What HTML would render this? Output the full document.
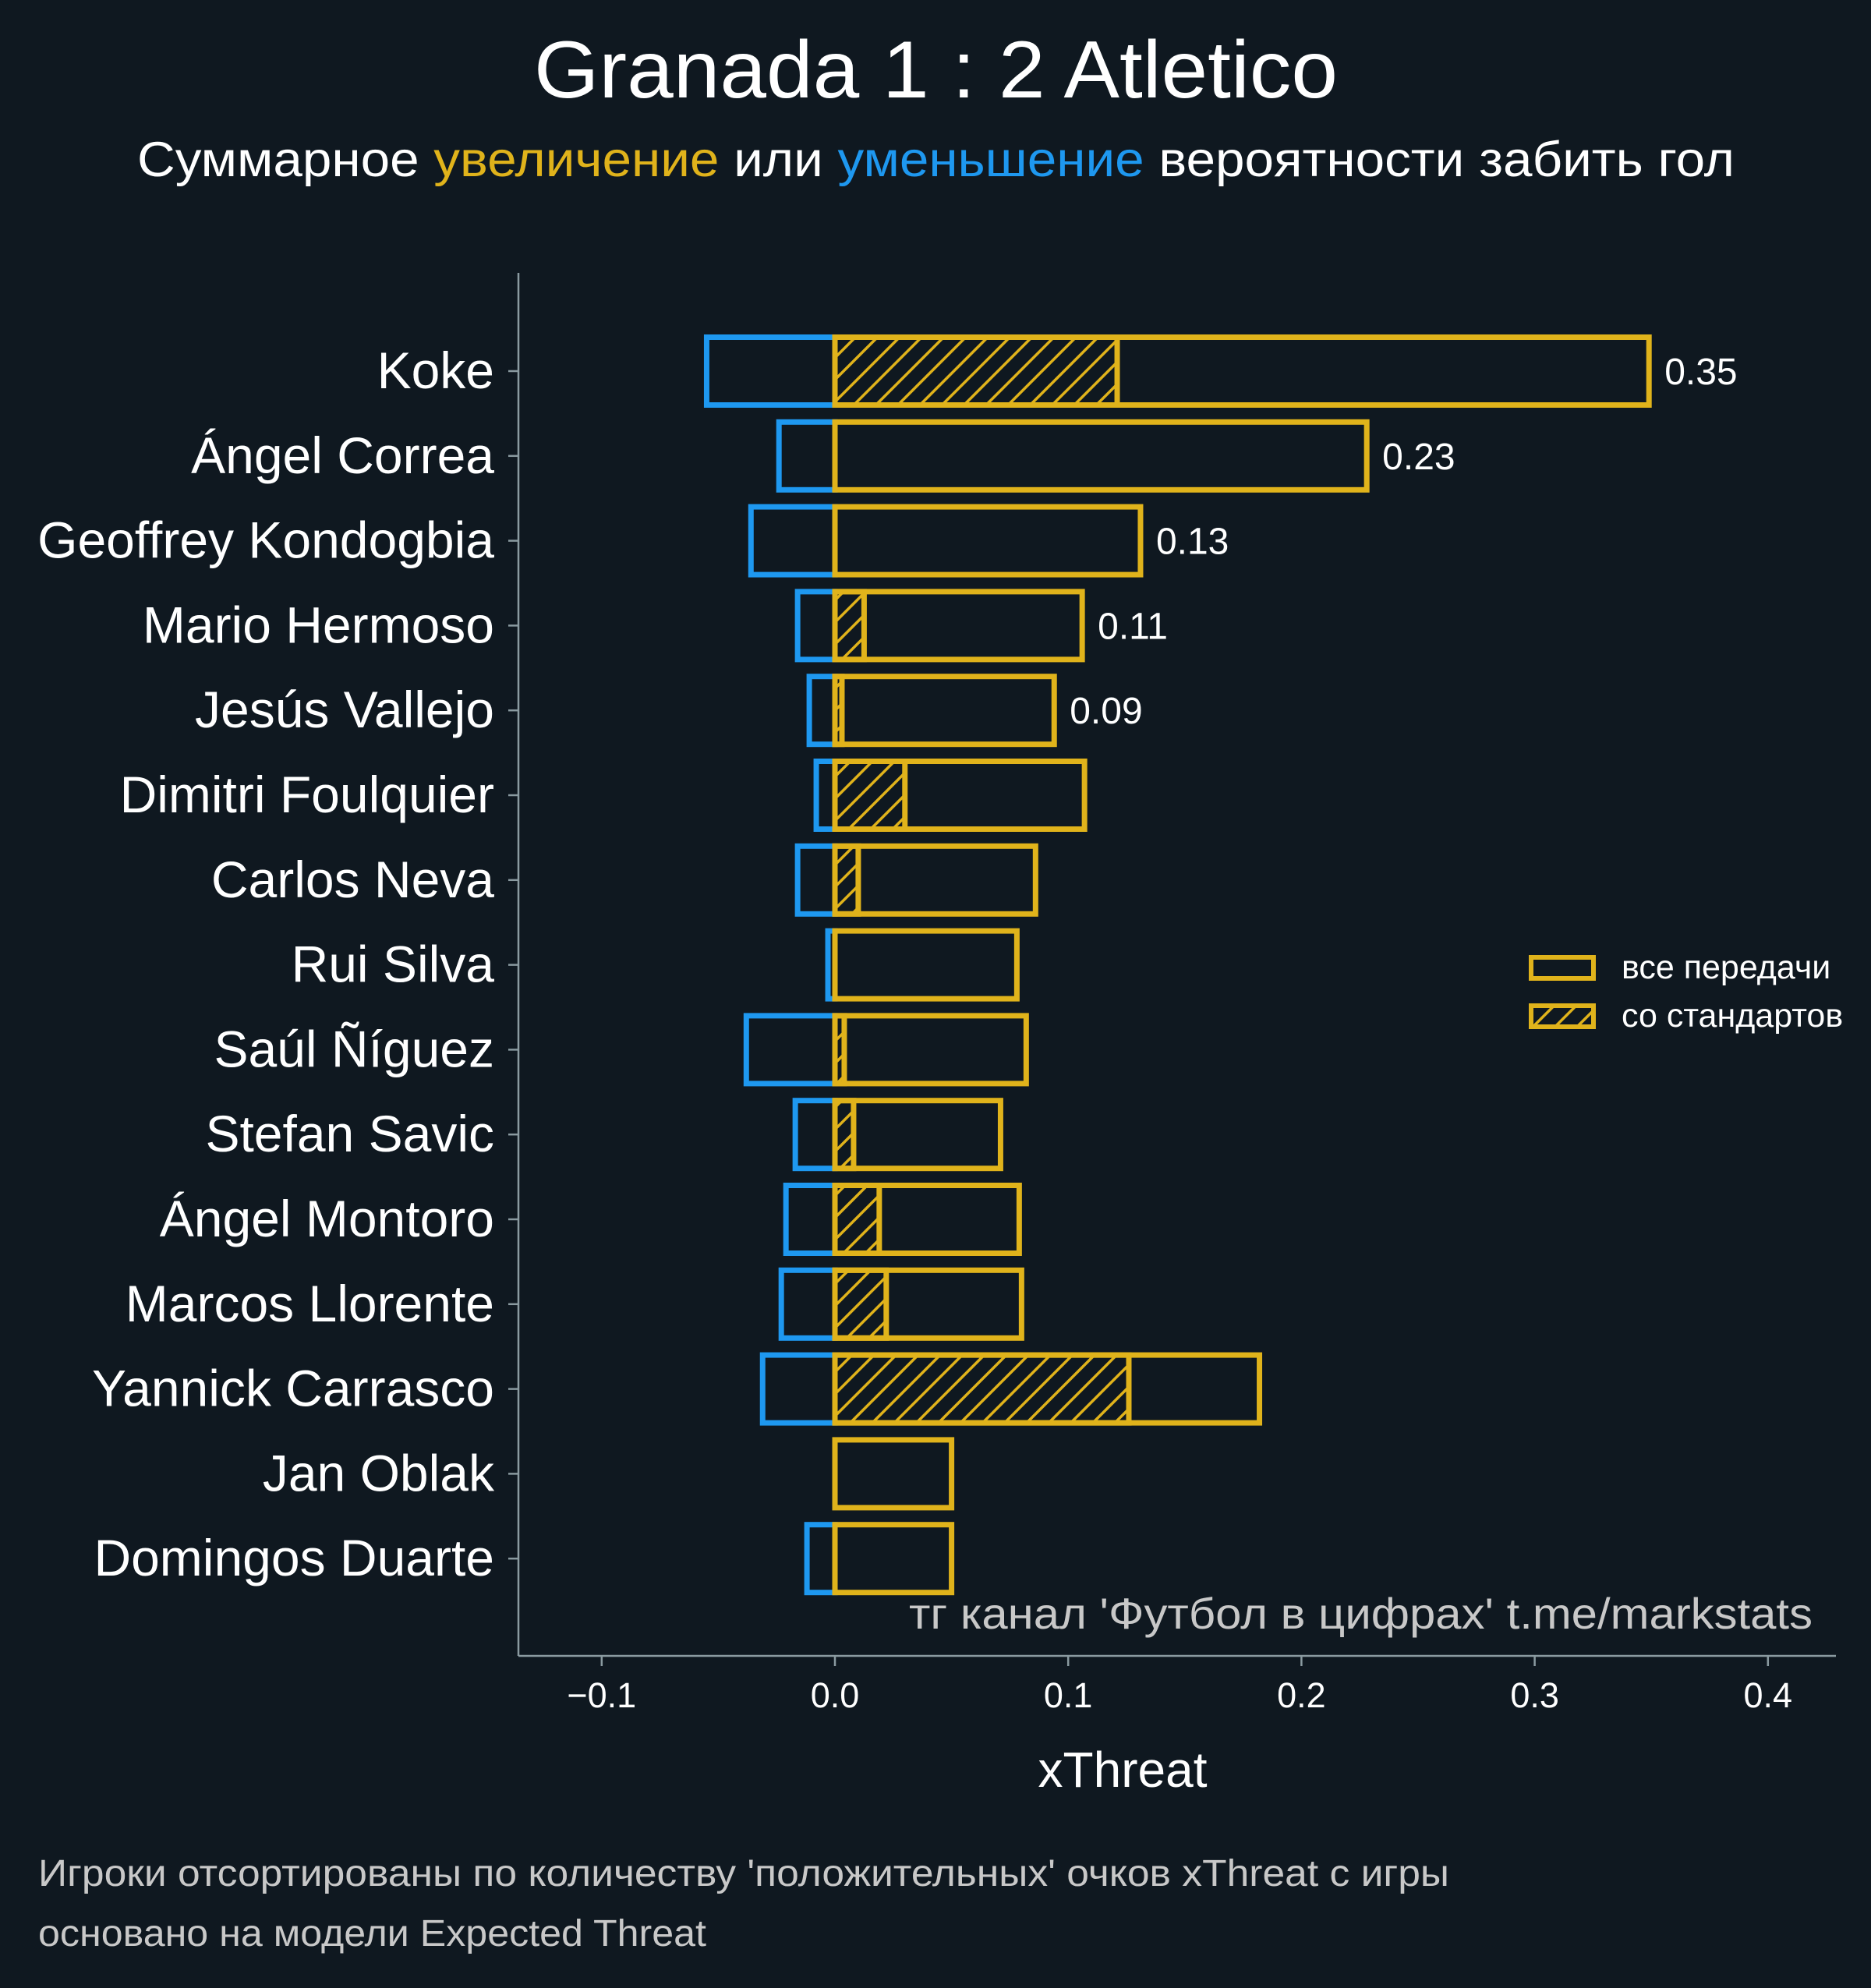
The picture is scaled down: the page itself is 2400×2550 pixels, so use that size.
<!DOCTYPE html>
<html><head><meta charset="utf-8"><style>
html,body{margin:0;padding:0;background:#0f1820;}
svg{display:block;font-family:"Liberation Sans","DejaVu Sans",sans-serif;}
</style></head><body>
<svg id="chart" width="2400" height="2550" viewBox="0 0 2400 2550">
<defs>
<pattern id="hatch" patternUnits="userSpaceOnUse" width="20" height="20" patternTransform="rotate(45)">
<rect width="20" height="20" fill="#0f1820"/>
<line x1="0" y1="0" x2="0" y2="20" stroke="#e0b31b" stroke-width="7"/>
</pattern>
</defs>
<rect width="2400" height="2550" fill="#0f1820"/>
<text x="685" y="125" textLength="1031" lengthAdjust="spacingAndGlyphs" font-size="104" fill="#ffffff">Granada 1 : 2 Atletico</text>
<text x="176" y="226" textLength="2049" lengthAdjust="spacingAndGlyphs" font-size="63" fill="#ffffff">Суммарное <tspan fill="#e0b31b">увеличение</tspan> или <tspan fill="#1e98f0">уменьшение</tspan> вероятности забить гол</text>
<g id="plot"></g>
<line x1="665" y1="350" x2="665" y2="2124" stroke="#8a9aa0" stroke-width="2.5"/>
<line x1="665" y1="2124" x2="2355" y2="2124" stroke="#8a9aa0" stroke-width="2.5"/>
<text x="1166" y="2089" textLength="1159" lengthAdjust="spacingAndGlyphs" font-size="56" fill="#c8c8c8">тг канал 'Футбол в цифрах'  t.me/markstats</text>
<text x="1440" y="2292" text-anchor="middle" font-size="64" fill="#ffffff">xThreat</text>
<g>
<rect x="1964" y="1228" width="80" height="27" fill="none" stroke="#e0b31b" stroke-width="6"/>
<text x="2080" y="1255" font-size="43" fill="#ffffff">все передачи</text>
<rect x="1964" y="1290" width="80" height="27" fill="url(#hatch)" stroke="#e0b31b" stroke-width="6"/>
<text x="2080" y="1317" font-size="43" fill="#ffffff">со стандартов</text>
</g>
<text x="49" y="2419" textLength="1810" lengthAdjust="spacingAndGlyphs" font-size="48" fill="#c8c8c8">Игроки отсортированы по количеству 'положительных' очков xThreat с игры</text>
<text x="49" y="2496" textLength="857" lengthAdjust="spacingAndGlyphs" font-size="48" fill="#c8c8c8">основано на модели Expected Threat</text>
</svg>
<script>
const players = ["Koke","Ángel Correa","Geoffrey Kondogbia","Mario Hermoso","Jesús Vallejo","Dimitri Foulquier","Carlos Neva","Rui Silva","Saúl Ñíguez","Stefan Savic","Ángel Montoro","Marcos Llorente","Yannick Carrasco","Jan Oblak","Domingos Duarte"];
const positiveTotal = [0.349,0.228,0.131,0.106,0.094,0.107,0.086,0.078,0.082,0.071,0.079,0.080,0.182,0.050,0.050];
const setPieces = [0.121,0,0,0.0125,0.003,0.030,0.010,0,0.004,0.008,0.019,0.022,0.126,0,0];
const negativeTotal = [-0.055,-0.024,-0.036,-0.016,-0.011,-0.008,-0.016,-0.003,-0.038,-0.017,-0.021,-0.023,-0.031,0,-0.012];
const valueLabels = ["0.35","0.23","0.13","0.11","0.09","","","","","","","","","",""];
const xTicks = [-0.1,0.0,0.1,0.2,0.3,0.4];
const xTickLabels = ["\u22120.1","0.0","0.1","0.2","0.3","0.4"];

const NS="http://www.w3.org/2000/svg";
const g=document.getElementById('plot');
function xs(v){return 1071+v*2992;}
function ys(i){return 476+i*108.8;}
const BH=87;
function mk(tag,attrs){const e=document.createElementNS(NS,tag);for(const k in attrs)e.setAttribute(k,attrs[k]);g.appendChild(e);return e;}

players.forEach((p,i)=>{
  const y=ys(i);
  const t=mk('line',{x1:652,x2:665,y1:y,y2:y,stroke:'#8a9aa0','stroke-width':2.5});
  
  
  const l=mk('text',{x:634,y:y+22,'text-anchor':'end','font-size':66,fill:'#ffffff'});
  l.textContent=p;
  
  
  if(negativeTotal[i]<0){
    const n=mk('rect',{x:xs(negativeTotal[i]),y:y-BH/2,width:xs(0)-xs(negativeTotal[i]),height:BH,fill:'none',stroke:'#1e98f0','stroke-width':7});
    
    
  }
  if(setPieces[i]>0){
    const h=mk('rect',{x:xs(0),y:y-BH/2,width:xs(setPieces[i])-xs(0),height:BH,fill:'url(#hatch)',stroke:'#e0b31b','stroke-width':7});
    
    
  }
  const b=mk('rect',{x:xs(0),y:y-BH/2,width:xs(positiveTotal[i])-xs(0),height:BH,fill:'none',stroke:'#e0b31b','stroke-width':7});
  
  
  if(valueLabels[i]){
    const v=mk('text',{x:xs(positiveTotal[i])+20,y:y+17,'font-size':48,fill:'#ffffff'});
    v.textContent=valueLabels[i];
    
    
  }
});
xTicks.forEach((v,i)=>{
  const x=xs(v);
  const t=mk('line',{x1:x,x2:x,y1:2124,y2:2137,stroke:'#8a9aa0','stroke-width':2.5});
  
  
  const l=mk('text',{x:x,y:2190,'text-anchor':'middle','font-size':45,fill:'#ffffff'});
  l.textContent=xTickLabels[i];
  
  
});
</script>
</body></html>
